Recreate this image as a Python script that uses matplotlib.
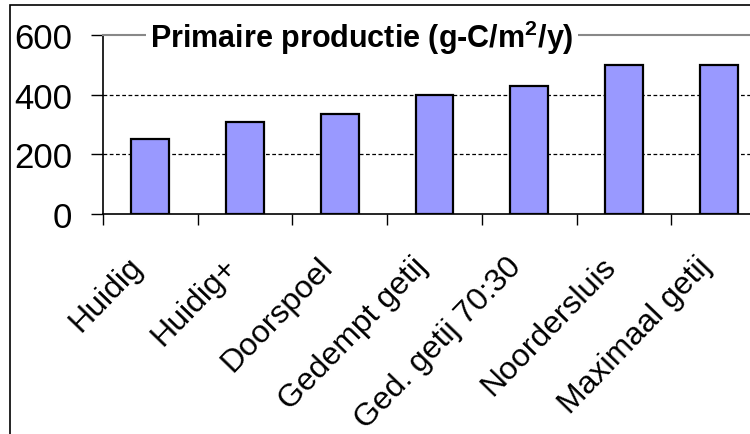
import matplotlib.pyplot as plt
import matplotlib.patches as patches

plt.rcParams['font.family'] = ['Liberation Sans', 'DejaVu Sans']
plt.rcParams['mathtext.fontset'] = 'custom'
plt.rcParams['mathtext.bf'] = 'Liberation Sans:bold'
plt.rcParams['mathtext.rm'] = 'Liberation Sans'

scenarios = ['Huidig', 'Huidig+', 'Doorspoel', 'Gedempt getij',
             'Ged. getij 70:30', 'Noordersluis', 'Maximaal getij']
productie = [250, 310, 335, 398, 430, 498, 498]
title = 'Primaire productie (g-C/m$^{\\mathbf{2}}$/y)'

fig = plt.figure(figsize=(7.5, 4.35), dpi=100)
ax = fig.add_axes([103/750, 1 - 215/435, 663/750, (215 - 36)/435])

x = list(range(len(scenarios)))
ax.bar(x, productie, width=0.4, color='#9999ff', edgecolor='black', linewidth=1.6, zorder=3)

ax.set_xlim(-0.5, len(scenarios) - 0.5)
ax.set_ylim(0, 600)
ax.set_yticks([0, 200, 400, 600])
ax.tick_params(axis='y', labelsize=25, length=9, width=1, direction='out', pad=13)

# ticks between categories, labels at category centres
ax.set_xticks([i - 0.5 for i in range(len(scenarios) + 1)])
ax.set_xticklabels([])
ax.tick_params(axis='x', length=8, width=1, direction='out')
for i, name in enumerate(scenarios):
    ax.text(i - 0.13, -160, name, rotation=46, ha='right', va='center',
            rotation_mode='anchor', fontsize=23)

for y in [200, 400]:
    ax.axhline(y, color='black', linestyle=(0, (3, 2)), linewidth=0.9, zorder=1)

ax.spines['right'].set_visible(False)
ax.spines['top'].set_color('#888888')
ax.spines['top'].set_linewidth(1.5)
ax.spines['left'].set_linewidth(1.2)
ax.spines['bottom'].set_linewidth(1.2)

ax.text(150/750, 1 - 38/435, title, transform=fig.transFigure, fontsize=22,
        fontweight='bold', ha='left', va='center',
        bbox=dict(facecolor='white', edgecolor='none', pad=3))

# outer frame of the chart area
fig.patches.append(patches.Rectangle((10/750, -0.1), 1.2, 1 - 6/435 + 0.1,
                                     transform=fig.transFigure, fill=False,
                                     edgecolor='black', linewidth=1.2))

fig.savefig('out.png', dpi=100)
